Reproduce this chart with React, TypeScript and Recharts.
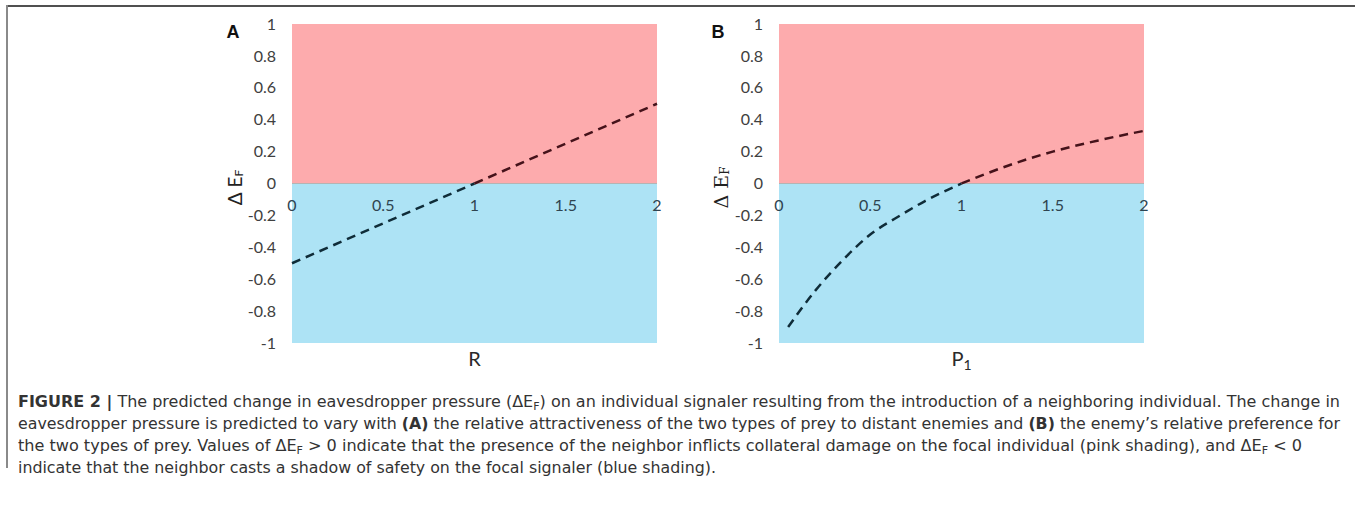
import React from 'react'
import { LineChart, Line, XAxis, YAxis, ReferenceArea, ReferenceLine, ReferenceDot } from 'recharts'

const PINK = '#fdabad'
const BLUE = '#ade3f5'
const LINE_BELOW = '#0f2c38'
const LINE_ABOVE = '#45121a'

const yTicks = [-1, -0.8, -0.6, -0.4, -0.2, 0, 0.2, 0.4, 0.6, 0.8, 1]
const xTicks = [0, 0.5, 1, 1.5, 2]

// panel A: ΔE_F against R
const rValues = [0, 1, 2]
const deltaA = [-0.5, 0, 0.5]

// panel B: ΔE_F against P1
const p1Values = [0.05, 0.2, 0.35, 0.5, 0.65, 0.8, 1, 1.25, 1.5, 1.75, 2]
const deltaB = [-0.9, -0.67, -0.48, -0.32, -0.21, -0.11, 0, 0.11, 0.2, 0.27, 0.33]

function splitRows(xs: number[], ys: number[]) {
  return xs.map((x, i) => ({
    x,
    below: ys[i] <= 0 ? ys[i] : null,
    above: ys[i] >= 0 ? ys[i] : null,
  }))
}

const yLabel = (serif: boolean) => (props: any) => {
  const vb = props.viewBox
  const cx = vb.x + 2
  const cy = vb.y + vb.height / 2 + 4
  return (
    <text
      x={cx}
      y={cy}
      transform={`rotate(-90 ${cx} ${cy})`}
      textAnchor="middle"
      dominantBaseline="central"
      fontSize={19}
      fill="#222"
      fontFamily={serif ? '"DejaVu Serif", "Liberation Serif", serif' : 'Lato, "Liberation Sans", sans-serif'}
    >
      Δ E
      <tspan fontSize={12} dy={4}>F</tspan>
    </text>
  )
}

const xLabel = (main: string, sub?: string) => (props: any) => {
  const vb = props.viewBox
  return (
    <text
      x={vb.x + vb.width / 2}
      y={vb.y + vb.height / 2}
      textAnchor="middle"
      dominantBaseline="central"
      fontSize={20}
      fill="#2a2a2a"
      fontFamily='Lato, "Liberation Sans", sans-serif'
    >
      {main}
      {sub ? <tspan fontSize={14} dy={6}>{sub}</tspan> : null}
    </text>
  )
}

interface PanelProps {
  xs: number[]
  ys: number[]
  curve: 'linear' | 'monotone'
  serif: boolean
  xName: string
  xSub?: string
}

function Panel({ xs, ys, curve, serif, xName, xSub }: PanelProps) {
  const data = splitRows(xs, ys)
  return (
    <LineChart width={470} height={380} data={data} margin={{ top: 24, right: 13, bottom: 7, left: 32 }}>
      <ReferenceArea y1={0} y2={1} fill={PINK} fillOpacity={1} stroke="none" />
      <ReferenceArea y1={-1} y2={0} fill={BLUE} fillOpacity={1} stroke="none" />
      <ReferenceLine y={0} stroke="#b4b4b4" strokeWidth={1} />
      <XAxis
        type="number"
        dataKey="x"
        domain={[0, 2]}
        ticks={xTicks}
        tick={false}
        axisLine={false}
        tickLine={false}
        height={30}
        label={xLabel(xName, xSub)}
      />
      <YAxis
        type="number"
        domain={[-1, 1]}
        ticks={yTicks}
        interval={0}
        axisLine={false}
        tickLine={false}
        tickMargin={10}
        width={60}
        tick={{ fontSize: 16, fill: '#404040', fontFamily: 'Lato, "Liberation Sans", sans-serif' }}
        label={yLabel(serif)}
      />
      {xTicks.map((t) => (
        <ReferenceDot
          key={t}
          x={t}
          y={0}
          r={0}
          fill="none"
          stroke="none"
          label={{
            value: String(t),
            position: 'bottom',
            offset: 16,
            fontSize: 16,
            fill: '#2f4450',
            fontFamily: 'Lato, "Liberation Sans", sans-serif',
          }}
        />
      ))}
      <Line
        dataKey="below"
        type={curve}
        stroke={LINE_BELOW}
        strokeWidth={2.5}
        strokeDasharray="9 6"
        dot={false}
        isAnimationActive={false}
      />
      <Line
        dataKey="above"
        type={curve}
        stroke={LINE_ABOVE}
        strokeWidth={2.5}
        strokeDasharray="9 6"
        dot={false}
        isAnimationActive={false}
      />
    </LineChart>
  )
}

const capFont = '"Liberation Sans Narrow", "DejaVu Sans Condensed", Roboto, "Liberation Sans", sans-serif'

function Sub() {
  return (
    <tspan fontSize={11} baselineShift={-3}>F</tspan>
  )
}

export default function App() {
  return (
    <div style={{ position: 'absolute', left: 0, top: 0, width: 1355, height: 507, background: '#fff' }}>
      <div style={{ position: 'absolute', left: 200, top: 0 }}>
        <Panel xs={rValues} ys={deltaA} curve="linear" serif={false} xName="R" />
      </div>
      <div style={{ position: 'absolute', left: 687, top: 0 }}>
        <Panel xs={p1Values} ys={deltaB} curve="monotone" serif={true} xName="P" xSub="1" />
      </div>
      <svg width={1355} height={507} style={{ position: 'absolute', left: 0, top: 0, pointerEvents: 'none' }}>
        <line x1={7} y1={6} x2={1355} y2={6} stroke="#505050" strokeWidth={2} />
        <line x1={7} y1={5} x2={7} y2={468} stroke="#8a8a8a" strokeWidth={2} />
        <g fontFamily='"Liberation Sans", Arial, sans-serif' fontWeight="bold" fontSize={18} fill="#111">
          <text x={233} y={38} textAnchor="middle">A</text>
          <text x={718} y={38} textAnchor="middle">B</text>
        </g>
        <g fontFamily={capFont} fontSize={16} fontWeight={300} fill="#333">
          <text x={18} y={407} textLength={1322} lengthAdjust="spacingAndGlyphs">
            <tspan fontWeight="bold">FIGURE 2 |</tspan> The predicted change in eavesdropper pressure (ΔE<Sub />) on an
            individual signaler resulting from the introduction of a neighboring individual. The change in
          </text>
          <text x={18} y={429} textLength={1322} lengthAdjust="spacingAndGlyphs">
            eavesdropper pressure is predicted to vary with <tspan fontWeight="bold">(A)</tspan> the relative
            attractiveness of the two types of prey to distant enemies and <tspan fontWeight="bold">(B)</tspan> the
            enemy’s relative preference for
          </text>
          <text x={18} y={451} textLength={1284} lengthAdjust="spacingAndGlyphs">
            the two types of prey. Values of ΔE<Sub /> &gt; 0 indicate that the presence of the neighbor inflicts
            collateral damage on the focal individual (pink shading), and ΔE<Sub /> &lt; 0
          </text>
          <text x={18} y={473} textLength={698} lengthAdjust="spacingAndGlyphs">
            indicate that the neighbor casts a shadow of safety on the focal signaler (blue shading).
          </text>
        </g>
      </svg>
    </div>
  )
}
